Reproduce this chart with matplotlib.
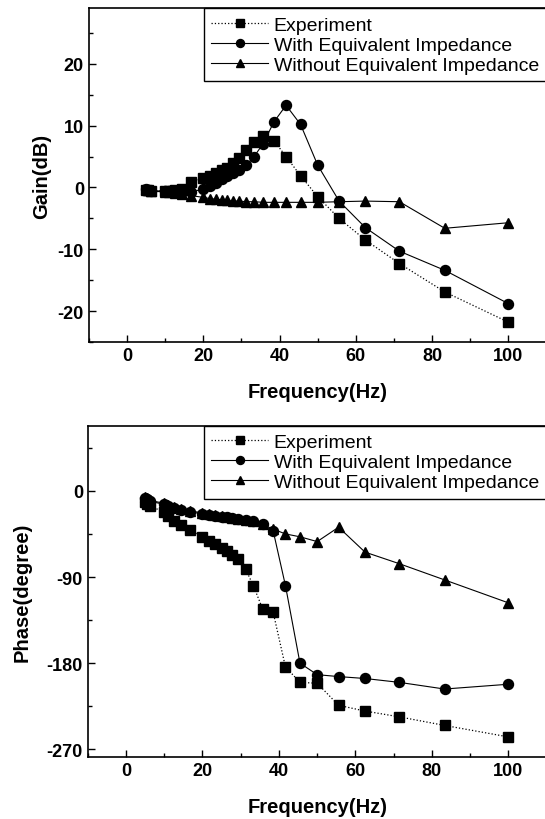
import matplotlib
matplotlib.use("Agg")
import matplotlib.pyplot as plt
from matplotlib.ticker import MultipleLocator

plt.rcParams['font.family'] = ['Liberation Sans', 'DejaVu Sans']
plt.rcParams['axes.unicode_minus'] = False

# frequencies (Hz), shared by all series
freq = [5.0, 5.6, 6.2, 10.0, 11.1, 12.5, 14.3, 16.7, 20.0, 21.7, 23.3, 25.0, 26.3, 27.8,
        29.4, 31.3, 33.3, 35.7, 38.5, 41.7, 45.5, 50.0, 55.6, 62.5, 71.4, 83.3, 100.0]

gain_exp = [-0.4, -0.4, -0.5, -0.6, -0.5, -0.4, -0.2, 0.9, 1.6, 1.9, 2.3, 2.8, 3.2, 3.9,
            4.8, 6.0, 7.4, 8.3, 7.6, 5.0, 1.9, -1.5, -5.0, -8.5, -12.3, -16.9, -21.8]
gain_with = [-0.3, -0.4, -0.5, -0.6, -0.6, -0.6, -0.7, -0.8, -0.2, 0.3, 0.8, 1.3, 1.8, 2.3,
             2.9, 3.6, 5.0, 7.1, 10.6, 13.3, 10.2, 3.6, -2.2, -6.5, -10.3, -13.4, -18.8]
gain_without = [-0.3, -0.4, -0.6, -0.7, -0.8, -0.9, -1.1, -1.3, -1.6, -1.8, -1.9, -2.0, -2.1, -2.2,
                -2.2, -2.3, -2.3, -2.4, -2.4, -2.4, -2.4, -2.4, -2.3, -2.2, -2.3, -6.6, -5.7]

phase_exp = [-12, -14, -16, -22, -26, -31, -36, -41, -48, -52, -56, -60, -63, -67,
             -71, -82, -99, -123, -127, -184, -200, -201, -224, -230, -236, -245, -257]
phase_with = [-8, -9, -11, -14, -16, -18, -20, -22, -24, -25, -26, -27, -27, -28,
              -29, -30, -31, -35, -42, -99, -180, -192, -194, -196, -200, -207, -202]
phase_without = [-6, -8, -10, -13, -15, -17, -19, -21, -23, -24, -25, -26, -27, -28,
                 -29, -30, -32, -35, -40, -45, -48, -53, -38, -64, -76, -93, -117]

labels = ["Experiment", "With Equivalent Impedance", "Without Equivalent Impedance"]

fig = plt.figure(figsize=(5.45, 8.2), dpi=100)
ax1 = fig.add_axes([0.163, 0.5817, 0.84, 0.407])
ax2 = fig.add_axes([0.161, 0.0756, 0.842, 0.404])

def draw(ax, ye, yw, yo):
    ax.plot(freq, ye, ls=':', lw=0.9, color='black', marker='s', ms=6.5, label=labels[0])
    ax.plot(freq, yw, ls='-', lw=0.8, color='black', marker='o', ms=7.2, label=labels[1])
    ax.plot(freq, yo, ls='-', lw=0.8, color='black', marker='^', ms=7.2, label=labels[2])
    ax.set_xlim(-10, 110)
    ax.xaxis.set_major_locator(MultipleLocator(20))
    ax.xaxis.set_minor_locator(MultipleLocator(10))
    ax.tick_params(which='both', direction='in', labelsize=13, width=1.0)
    ax.tick_params(which='major', length=5)
    ax.tick_params(which='minor', length=3)
    for sp in ax.spines.values():
        sp.set_linewidth(1.2)
    ax.set_xlabel("Frequency(Hz)", fontsize=14.5, fontweight='bold', labelpad=13)
    leg = ax.legend(loc='upper right', borderaxespad=0, fancybox=False, edgecolor='black',
                    fontsize=14, handlelength=2.9, handletextpad=0.3, labelspacing=0.12,
                    borderpad=0.4, framealpha=1, markerscale=0.8)
    leg.get_frame().set_linewidth(1.0)

draw(ax1, gain_exp, gain_with, gain_without)
ax1.set_ylim(-25, 29)
ax1.yaxis.set_major_locator(MultipleLocator(10))
ax1.yaxis.set_minor_locator(MultipleLocator(5))
ax1.set_ylabel("Gain(dB)", fontsize=14.5, fontweight='bold', labelpad=5)

draw(ax2, phase_exp, phase_with, phase_without)
ax2.set_ylim(-278, 68)
ax2.yaxis.set_major_locator(MultipleLocator(90))
ax2.yaxis.set_minor_locator(MultipleLocator(45))
ax2.set_ylabel("Phase(degree)", fontsize=14.5, fontweight='bold', labelpad=11)

for ax in (ax1, ax2):
    for lab in ax.get_xticklabels() + ax.get_yticklabels():
        lab.set_fontweight('bold')

fig.savefig("out.png", dpi=100)
